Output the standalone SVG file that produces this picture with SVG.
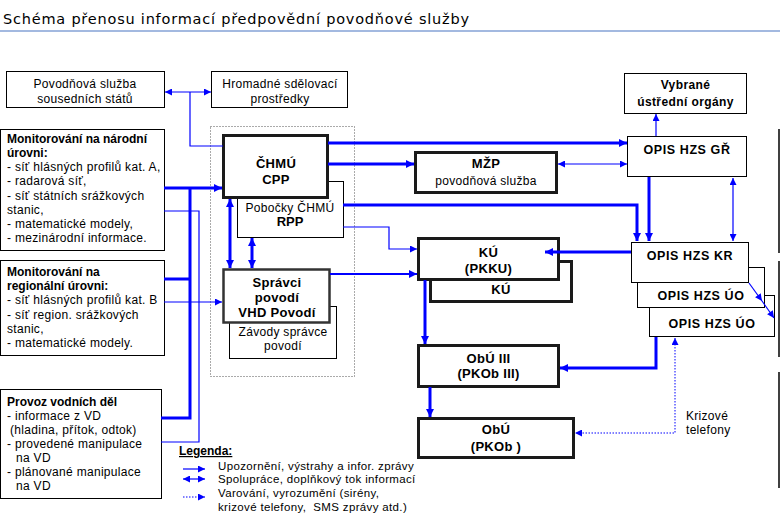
<svg xmlns="http://www.w3.org/2000/svg" width="780" height="520" viewBox="0 0 780 520">
<defs>
<style>
text{font-family:"Liberation Sans",Arial,sans-serif;fill:#000}
.t{font-size:12px;letter-spacing:0.3px}
.b{font-size:12px;font-weight:bold}
.bb{font-size:13px;font-weight:bold;letter-spacing:0.3px}
.op{font-size:12.5px;font-weight:bold;letter-spacing:0.6px}
.lg{font-size:11.5px;letter-spacing:0.35px}
.c{text-anchor:middle}
.box{fill:#fff;stroke:#000;stroke-width:1}
.tb{fill:#fff;stroke:#1a1a1a;stroke-width:3}
.k{fill:none;stroke:#0000ff;stroke-width:3}
.m{fill:none;stroke:#0000ff;stroke-width:2}
.n{fill:none;stroke:#0000ff;stroke-width:1.2}
.d{fill:none;stroke:#0000ff;stroke-width:1;stroke-dasharray:1.5 1.5}
</style>
<marker id="ak" viewBox="0 0 10 10" refX="10" refY="5" markerWidth="9" markerHeight="8" markerUnits="userSpaceOnUse" orient="auto-start-reverse"><path d="M0,0L10,5L0,10z" fill="#0000ff"/></marker>
<marker id="an" viewBox="0 0 10 10" refX="10" refY="5" markerWidth="8" markerHeight="7" markerUnits="userSpaceOnUse" orient="auto-start-reverse"><path d="M0,0L10,5L0,10z" fill="#0000ff"/></marker>
</defs>
<rect width="780" height="520" fill="#fff"/>
<text x="3" y="24" style="font-family:'DejaVu Sans',Verdana,sans-serif;font-size:14.5px" textLength="466">Schéma přenosu informací předpovědní povodňové služby</text>
<line x1="0" y1="31" x2="780" y2="31" stroke="#a3b9e0" stroke-width="2"/>
<rect x="210.5" y="126.5" width="144" height="250" fill="none" stroke="#555" stroke-width="1" stroke-dasharray="1 2"/>
<g stroke="#000" stroke-width="1.5">
<line x1="779" y1="129" x2="779" y2="253"/>
<line x1="779" y1="261" x2="779" y2="357"/>
<line x1="779" y1="372" x2="779" y2="488"/>
</g>
<g id="sousedni"><rect class="box" x="6.5" y="71.5" width="158" height="36"/><text class="t c" x="85" y="88">Povodňová služba</text><text class="t c" x="85" y="103">sousedních států</text></g>
<g id="media"><rect class="box" x="211.5" y="71.5" width="136" height="36"/><text class="t c" x="280" y="88">Hromadné sdělovací</text><text class="t c" x="280" y="103">prostředky</text></g>
<g id="narodni"><rect class="box" x="0.5" y="129.5" width="164" height="121"/>
<text class="b" x="7" y="143">Monitorování na národní</text>
<text class="b" x="7" y="157">úrovni:</text>
<text class="t" x="7" y="171">- síť hlásných profilů kat. A,</text>
<text class="t" x="7" y="185">- radarová síť,</text>
<text class="t" x="7" y="199.5">- síť státních srážkových</text>
<text class="t" x="7" y="213.5">stanic,</text>
<text class="t" x="7" y="228">- matematické modely,</text>
<text class="t" x="7" y="242">- mezinárodní informace.</text></g>
<g id="regionalni"><rect class="box" x="0.5" y="260.5" width="164" height="95"/>
<text class="b" x="7" y="276">Monitorování na</text>
<text class="b" x="7" y="290">regionální úrovni:</text>
<text class="t" x="7" y="304">- síť hlásných profilů kat. B</text>
<text class="t" x="7" y="318.5">- síť region. srážkových</text>
<text class="t" x="7" y="332.5">stanic,</text>
<text class="t" x="7" y="346.5">- matematické modely.</text></g>
<g id="provoz"><rect class="box" x="0.5" y="389.5" width="161" height="109"/>
<text class="b" x="7" y="406">Provoz vodních děl</text>
<text class="t" x="7" y="420">- informace z VD</text>
<text class="t" x="10" y="434">(hladina, přítok, odtok)</text>
<text class="t" x="7" y="448">- provedené manipulace</text>
<text class="t" x="16" y="462">na VD</text>
<text class="t" x="7" y="476">- plánované manipulace</text>
<text class="t" x="16" y="490">na VD</text></g>
<g id="pobocky"><rect class="box" x="237.5" y="181.5" width="106" height="56"/><text class="t c" x="290" y="211.5">Pobočky ČHMÚ</text><text class="b c" x="290" y="225.5" style="font-size:13px">RPP</text></g>
<g id="chmu"><rect class="tb" x="223.5" y="135.5" width="104" height="62"/><text class="bb c" x="276" y="168">ČHMÚ</text><text class="bb c" x="276" y="184">CPP</text></g>
<g id="zavody"><rect class="box" x="229.5" y="306.5" width="107" height="52"/><text class="t c" x="283" y="336">Závody správce</text><text class="t c" x="283" y="350">povodí</text></g>
<g id="spravci"><rect class="tb" x="223.5" y="269.5" width="106" height="53" style="stroke:#333;stroke-width:2.5"/><text class="bb c" x="277" y="287">Správci</text><text class="bb c" x="277" y="302">povodí</text><text class="bb c" x="277" y="317">VHD Povodí</text></g>
<g id="mzp"><rect class="tb" x="415.5" y="152.5" width="141" height="40"/><text class="bb c" x="486" y="168">MŽP</text><text class="t c" x="486" y="185">povodňová služba</text></g>
<g id="ku2"><rect class="tb" x="430.5" y="261.5" width="141" height="40"/><text class="bb c" x="501" y="294">KÚ</text></g>
<g id="ku"><rect class="tb" x="418.5" y="238.5" width="140" height="41"/><text class="bb c" x="488.5" y="257">KÚ</text><text class="bb c" x="488.5" y="273">(PKKU)</text></g>
<g id="obu3"><rect class="tb" x="418.5" y="345.5" width="140" height="41"/><text class="bb c" x="488.5" y="363">ObÚ III</text><text class="bb c" x="488.5" y="378">(PKOb III)</text></g>
<g id="obu"><rect class="tb" x="418.5" y="418.5" width="155" height="39"/><text class="bb c" x="496" y="434">ObÚ</text><text class="bb c" x="496" y="451">(PKOb )</text></g>
<g id="vybrane"><rect class="box" x="624.5" y="73.5" width="122" height="40"/><text class="b c" x="685.5" y="89" style="letter-spacing:0.4px">Vybrané</text><text class="b c" x="685.5" y="106" style="letter-spacing:0.4px">ústřední orgány</text></g>
<g id="opis-gr"><rect class="box" x="627.5" y="136.5" width="119" height="40"/><text class="op c" x="687" y="154">OPIS HZS GŘ</text></g>
<g id="opis-uo2"><rect class="box" x="649.5" y="295.5" width="125" height="41"/><text class="op c" x="712" y="327.5">OPIS HZS ÚO</text></g>
<g id="opis-uo1"><rect class="box" x="637.5" y="267.5" width="127" height="40"/><text class="op c" x="701" y="300">OPIS HZS ÚO</text></g>
<g id="opis-kr"><rect class="box" x="631.5" y="242.5" width="117" height="40"/><text class="op c" x="690" y="260">OPIS HZS KR</text></g>
<text class="t" x="686" y="420">Krizové</text>
<text class="t" x="686" y="434">telefony</text>
<g id="legenda">
<text class="b" x="179" y="455" text-decoration="underline">Legenda:</text>
<line class="n" x1="183" y1="469" x2="205" y2="469" marker-end="url(#an)"/>
<line class="n" x1="183" y1="479" x2="205" y2="479" marker-start="url(#an)" marker-end="url(#an)"/>
<line class="d" x1="183" y1="497" x2="205" y2="497" marker-end="url(#an)"/>
<text class="lg" x="218" y="470">Upozornění, výstrahy a infor. zprávy</text>
<text class="lg" x="218" y="483">Spolupráce, doplňkový tok informací</text>
<text class="lg" x="218" y="497">Varování, vyrozumění (sirény,</text>
<text class="lg" x="218" y="511">krizové telefony,&#160; SMS zprávy atd.)</text>
</g>
<g id="connectors">
<line class="n" x1="165" y1="92" x2="211" y2="92" marker-start="url(#an)" marker-end="url(#an)"/>
<polyline class="n" points="190,92 190,146 223,146"/>
<line class="k" x1="164" y1="188" x2="222" y2="188" marker-end="url(#ak)"/>
<polyline class="k" points="190,188 190,418 161,418"/>
<line class="k" x1="164" y1="279" x2="190" y2="279"/>
<polyline class="n" points="164,211 199,211 199,442 161,442"/>
<line class="n" x1="164" y1="302" x2="222" y2="302" marker-end="url(#an)"/>
<line class="k" x1="230" y1="199" x2="230" y2="268" marker-start="url(#ak)" marker-end="url(#ak)"/>
<line class="k" x1="252" y1="238" x2="252" y2="268" marker-start="url(#ak)" marker-end="url(#ak)"/>
<line class="k" x1="328" y1="143" x2="627" y2="143" marker-end="url(#ak)"/>
<line class="k" x1="328" y1="164" x2="414" y2="164" marker-end="url(#ak)"/>
<line class="n" x1="558" y1="164" x2="627" y2="164" marker-start="url(#an)" marker-end="url(#an)"/>
<polyline class="k" points="343,205 637,205 637,241" marker-end="url(#ak)"/>
<line class="k" x1="649" y1="177" x2="649" y2="241" marker-end="url(#ak)"/>
<line class="n" x1="656" y1="136" x2="656" y2="114" marker-end="url(#an)"/>
<line class="n" x1="733" y1="178" x2="733" y2="241" marker-start="url(#an)" marker-end="url(#an)"/>
<polyline class="n" points="343,227 389,227 389,249 417,249" marker-end="url(#an)"/>
<line class="m" x1="330" y1="274" x2="417" y2="274" marker-end="url(#ak)"/>
<line class="k" x1="631" y1="252" x2="545" y2="252" marker-end="url(#ak)"/>
<line class="k" x1="425" y1="280" x2="425" y2="344" marker-end="url(#ak)"/>
<line class="k" x1="430" y1="387" x2="430" y2="417" marker-end="url(#ak)"/>
<polyline class="k" points="656,337 656,368 560,368" marker-end="url(#ak)"/>
<polyline class="d" points="675,338 675,433 575,433" marker-start="url(#an)" marker-end="url(#an)"/>
<line class="n" x1="749" y1="283" x2="762" y2="301" marker-end="url(#an)"/>
<line class="n" x1="762" y1="301" x2="774" y2="318" marker-end="url(#an)"/>
</g>
</svg>
